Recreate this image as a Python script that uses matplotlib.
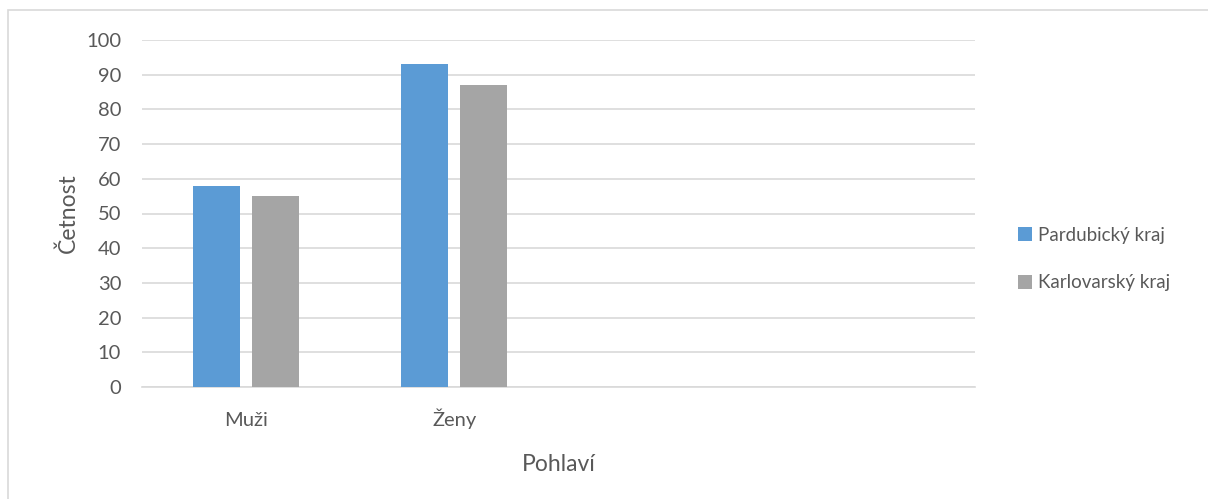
import matplotlib.pyplot as plt
from matplotlib.patches import Rectangle
import numpy as np

categories = ['Muži', 'Ženy', '', '']
pardubicky = [58, 93, None, None]
karlovarsky = [55, 87, None, None]
series_names = ['Pardubický kraj', 'Karlovarský kraj']
yticks = [0, 10, 20, 30, 40, 50, 60, 70, 80, 90, 100]

plt.rcParams['font.family'] = ['Lato', 'DejaVu Sans']
text_color = '#595959'
grid_color = '#d9d9d9'

W, H = 1208, 499
fig = plt.figure(figsize=(W / 100, H / 100), dpi=100)
fig.set_facecolor('white')

# outer chart border like excel
fig.add_artist(Rectangle((8 / W, -0.01), 1.05, 1 - 10 / H + 0.01, transform=fig.transFigure,
                         fill=False, edgecolor=grid_color, linewidth=1.2))

ax = fig.add_axes([142 / W, 1 - 387 / H, (975 - 142) / W, (387 - 40) / H])

x = np.arange(len(categories))
bw = 0.226
off = 0.142
p_vals = [v if v is not None else 0 for v in pardubicky]
k_vals = [v if v is not None else 0 for v in karlovarsky]
ax.bar(x - off, p_vals, bw, color='#5b9bd5', label=series_names[0], zorder=3)
ax.bar(x + off, k_vals, bw, color='#a5a5a5', label=series_names[1], zorder=3)

ax.set_xlim(-0.5, len(categories) - 0.5)
ax.set_ylim(0, 100)
ax.set_yticks(yticks)
ax.set_xticks(x)
ax.set_xticklabels(categories, va='baseline')
ax.yaxis.grid(True, color=grid_color, linewidth=1.2, zorder=0)
ax.set_axisbelow(True)
for s in ['top', 'right', 'left']:
    ax.spines[s].set_visible(False)
ax.spines['bottom'].set_color(grid_color)
ax.spines['bottom'].set_linewidth(1.2)
ax.tick_params(axis='both', length=0, colors=text_color, labelsize=14.5)
ax.tick_params(axis='x', pad=28)
ax.tick_params(axis='y', pad=15)

ax.set_xlabel('Pohlaví', color=text_color, fontsize=16.5, labelpad=18)
ax.set_ylabel('Četnost', color=text_color, fontsize=16.5, labelpad=5)

leg = fig.legend(loc='center left', bbox_to_anchor=(1001 / W, 1 - 259 / H), frameon=False,
                 fontsize=13.5, handlelength=0.75, handleheight=0.75, handletextpad=0.35,
                 labelspacing=1.65, labelcolor=text_color)

fig.savefig('out.png', dpi=100, facecolor='white')
